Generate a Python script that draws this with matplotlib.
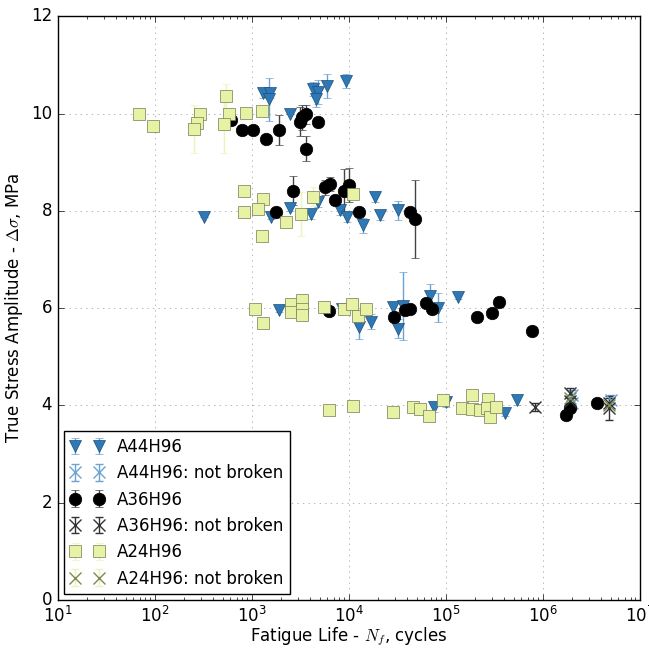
import matplotlib
matplotlib.use("Agg")
import matplotlib.pyplot as plt
import numpy as np

# A44H96 (broken)
a44_n = [1300, 1530, 1500, 2470, 4260, 4790, 4570, 5930, 9310,
         320, 1590, 2460, 4120, 4790, 8070, 9590, 14000, 18500, 20900, 32200,
         1900, 8410, 12800, 17100, 28600, 32200, 36300, 68400, 83000, 134000,
         75200, 101000, 405000, 543000]
a44_s = [10.42, 10.42, 10.29, 10.00, 10.50, 10.44, 10.29, 10.56, 10.67,
         7.88, 7.88, 8.05, 7.94, 8.18, 8.01, 7.88, 7.70, 8.29, 7.91, 8.01,
         5.97, 5.99, 5.62, 5.72, 6.03, 5.58, 6.04, 6.25, 6.01, 6.23,
         3.97, 4.07, 3.84, 4.11]
a44_e = [0.1, 0.1, 0.45, 0.0, 0.15, 0.25, 0.15, 0.25, 0.15,
         0.0, 0.05, 0.05, 0.1, 0.1, 0.1, 0.1, 0.15, 0.1, 0.1, 0.2,
         0.05, 0.1, 0.25, 0.15, 0.1, 0.2, 0.7, 0.25, 0.3, 0.05,
         0.1, 0.1, 0.05, 0.1]

# A44H96 (not broken)
a44nb_n = [2.0e6, 2.0e6, 5.0e6]
a44nb_s = [4.22, 4.05, 4.12]
a44nb_e = [0.1, 0.1, 0.1]

# A36H96 (broken)
a36_n = [617, 783, 1030, 1415, 1905, 3125, 3315, 3600, 4820, 3600,
         1766, 2630, 5660, 6370, 7170, 8880, 10070, 12770, 42600, 47900,
         6270, 29300, 37800, 42600, 63100, 71200, 210000, 300000, 355000, 776000,
         1720000, 1900000, 3570000]
a36_s = [9.86, 9.66, 9.66, 9.47, 9.66, 9.83, 9.92, 9.98, 9.83, 9.28,
         7.97, 8.41, 8.48, 8.55, 8.22, 8.41, 8.53, 7.98, 7.98, 7.84,
         5.95, 5.82, 5.97, 5.99, 6.10, 5.99, 5.82, 5.89, 6.12, 5.53,
         3.80, 3.94, 4.04]
a36_e = [0.1, 0.1, 0.05, 0.05, 0.3, 0.3, 0.25, 0.2, 0.05, 0.25,
         0.05, 0.3, 0.15, 0.15, 0.1, 0.45, 0.35, 0.05, 0.05, 0.8,
         0.1, 0.05, 0.05, 0.05, 0.05, 0.05, 0.05, 0.05, 0.1, 0.05,
         0.05, 0.05, 0.1]

# A36H96 (not broken)
a36nb_n = [8.3e5, 1.9e6, 1.9e6, 4.8e6, 4.8e6]
a36nb_s = [3.97, 4.10, 4.25, 3.95, 4.05]
a36nb_e = [0.08, 0.1, 0.1, 0.25, 0.1]

# A24H96 (broken)
a24_n = [68, 95, 291, 273, 254, 540, 580, 522, 881, 1260,
         832, 832, 1290, 1162, 1260, 2275, 3240, 4230, 11070,
         1070, 1310, 2510, 2510, 3315, 3315, 3315, 5520, 8870, 10670, 12300, 15100,
         6310, 11070, 28200, 45400, 53700, 67400, 92500, 145000, 184000, 188000,
         224000, 273000, 263000, 288000, 331000]
a24_s = [9.98, 9.75, 9.98, 9.81, 9.68, 10.35, 10.0, 9.78, 10.01, 10.05,
         8.41, 7.97, 8.25, 8.03, 7.48, 7.77, 7.94, 8.29, 8.34,
         5.99, 5.70, 6.08, 5.92, 6.16, 5.99, 5.86, 6.03, 5.99, 6.08, 5.84, 5.99,
         3.90, 3.99, 3.86, 3.96, 3.92, 3.79, 4.12, 3.94, 4.21, 3.92,
         3.90, 4.14, 3.94, 3.77, 3.97]
a24_e = [0.0, 0.0, 0.1, 0.1, 0.5, 0.25, 0.1, 0.6, 0.1, 0.1,
         0.1, 0.05, 0.1, 0.05, 0.05, 0.05, 0.45, 0.2, 0.1,
         0.05, 0.05, 0.05, 0.05, 0.05, 0.05, 0.05, 0.05, 0.05, 0.05, 0.1, 0.05,
         0.05, 0.05, 0.05, 0.05, 0.05, 0.05, 0.05, 0.05, 0.05, 0.05,
         0.05, 0.05, 0.05, 0.05, 0.05]

# A24H96 (not broken)
a24nb_n = [1.9e6, 4.8e6]
a24nb_s = [4.15, 4.0]
a24nb_e = [0.05, 0.05]

BLUE = "#2e79b5"
BLUE_EDGE = "#1d4f7a"
BLUE_ERR = "#6aa3d3"
SQ_FACE = "#e7f2a4"
SQ_EDGE = "#737b55"
SQ_ERR = "#eef4b8"


def main() -> None:
    plt.style.use("classic")
    plt.rcParams["font.size"] = 12

    fig = plt.figure(figsize=(6.49, 6.49), dpi=100, facecolor="white")
    ax = fig.add_axes([0.089, 0.0755, 0.897, 0.8995])

    h1 = ax.errorbar(a44_n, a44_s, yerr=a44_e, fmt="v", ms=9, mfc=BLUE, mec=BLUE_EDGE,
                     ecolor=BLUE_ERR, capsize=3, label="A44H96", zorder=3)
    h2 = ax.errorbar(a44nb_n, a44nb_s, yerr=a44nb_e, fmt="x", ms=9, mew=1, color=BLUE_ERR,
                     mec=BLUE_ERR, ecolor=BLUE_ERR, capsize=3, label="A44H96: not broken", zorder=3)
    h3 = ax.errorbar(a36_n, a36_s, yerr=a36_e, fmt="o", ms=9, mfc="black", mec="black",
                     ecolor="#444444", capsize=3, label="A36H96", zorder=3)
    h4 = ax.errorbar(a36nb_n, a36nb_s, yerr=a36nb_e, fmt="x", ms=9, mew=1, color="#333333",
                     mec="#333333", ecolor="#333333", capsize=3, label="A36H96: not broken", zorder=3)
    h5 = ax.errorbar(a24_n, a24_s, yerr=a24_e, fmt="s", ms=9, mfc=SQ_FACE, mec=SQ_EDGE,
                     ecolor=SQ_ERR, capsize=3, label="A24H96", zorder=3)
    h6 = ax.errorbar(a24nb_n, a24nb_s, yerr=a24nb_e, fmt="x", ms=9, mew=1, color="#7d8a55",
                     mec="#7d8a55", ecolor=SQ_ERR, capsize=3, label="A24H96: not broken", zorder=3)

    ax.set_xscale("log")
    ax.set_xlim(10, 1e7)
    ax.set_ylim(0, 12)
    ax.set_yticks([0, 2, 4, 6, 8, 10, 12])
    ax.grid(True, linestyle=":", color="#999999")
    ax.set_axisbelow(True)
    ax.set_xlabel("Fatigue Life - $N_f$, cycles", labelpad=0)
    ax.set_ylabel(r"True Stress Amplitude - $\Delta\sigma$, MPa", labelpad=4)

    leg = ax.legend(handles=[h1, h2, h3, h4, h5, h6], loc="lower left", numpoints=2,
                    fontsize=12, frameon=True, fancybox=False, handlelength=2.0,
                    borderaxespad=0.35)
    leg.get_frame().set_edgecolor("black")

    fig.savefig("out.png", dpi=100, facecolor="white")
    plt.close(fig)


if __name__ == "__main__":
    main()
